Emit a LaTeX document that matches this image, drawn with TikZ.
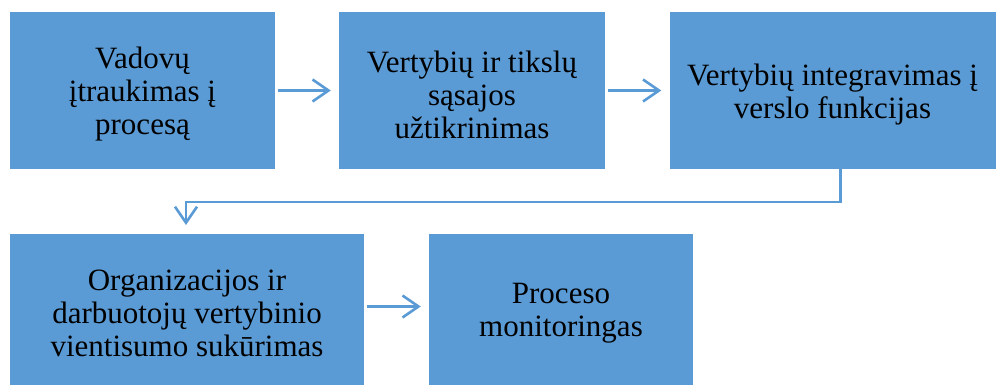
\documentclass[tikz,border=0pt]{standalone}
\usepackage{fontspec}
\setmainfont{Liberation Serif}
\usetikzlibrary{arrows.meta}
\definecolor{boxblue}{HTML}{5B9BD5}
\begin{document}
\begin{tikzpicture}[x=1pt,y=-1pt,
  box/.style={fill=boxblue,draw=none,inner sep=0pt},
  lbl/.style={align=center,font=\fontsize{31}{33}\selectfont,text=black,yshift=-4pt},
  conn/.style={draw=boxblue,line width=2.6pt,-{Straight Barb[length=16pt,width=22pt,line width=2.6pt]}}]
\useasboundingbox (0,0) rectangle (997,386);
\node[box,minimum width=265pt,minimum height=157pt] (b1) at (142.5,90.5) {};
\node[box,minimum width=266pt,minimum height=157pt] (b2) at (472,90.5) {};
\node[box,minimum width=326pt,minimum height=157pt] (b3) at (832.5,90.5) {};
\node[box,minimum width=354pt,minimum height=151pt] (b4) at (187,309.5) {};
\node[box,minimum width=264pt,minimum height=151pt] (b5) at (561,309.5) {};
\node[lbl] at (b1) {Vadovų\\įtraukimas į\\procesą};
\node[lbl] at (b2) {Vertybių ir tikslų\\sąsajos\\užtikrinimas};
\node[lbl] at (b3) {Vertybių integravimas į\\verslo funkcijas};
\node[lbl] at (b4) {Organizacijos ir\\darbuotojų vertybinio\\vientisumo sukūrimas};
\node[lbl] at (b5) {Proceso\\monitoringas};
\coordinate (a1s) at ([xshift=3pt]b1.east);
\coordinate (a1e) at ([xshift=-8pt]b2.west);
\draw[conn] (a1s) -- (a1e);
\coordinate (a2s) at ([xshift=3pt]b2.east);
\coordinate (a2e) at ([xshift=-8pt]b3.west);
\draw[conn] (a2s) -- (a2e);
\coordinate (c1) at (840.5,169);
\coordinate (c2) at (186,225);
\draw[conn] (c1) -- (840.5,202) -- (186,202) -- (c2);
\coordinate (a3s) at ([xshift=3pt,yshift=3pt]b4.east);
\coordinate (a3e) at ([xshift=-8pt,yshift=3pt]b5.west);
\draw[conn] (a3s) -- (a3e);
\end{tikzpicture}
\end{document}
